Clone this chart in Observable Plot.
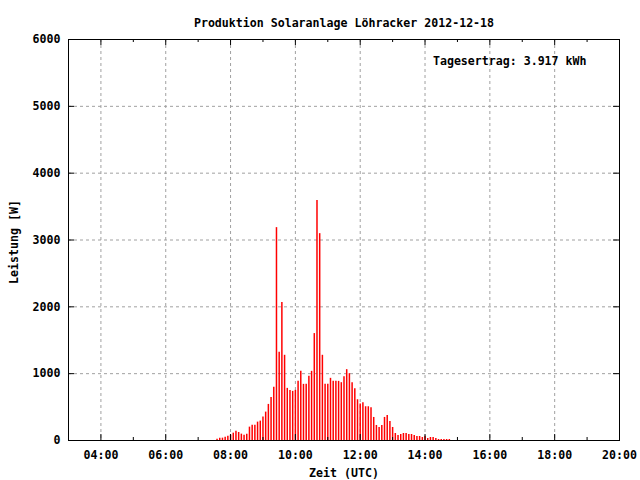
<!DOCTYPE html>
<html>
<head>
<meta charset="utf-8">
<script src="https://cdn.jsdelivr.net/npm/d3@7"></script>
<script src="https://cdn.jsdelivr.net/npm/@observablehq/plot@0.6"></script>
<style>
  html, body { margin: 0; padding: 0; background: white; }
</style>
</head>
<body>
<div id="chart"></div>
<script>
const dateStr = "2012-12-18";
const titleText = "Produktion Solaranlage Löhracker 2012-12-18";
const yieldText = "Tagesertrag: 3.917 kWh";
const xLabel = "Zeit (UTC)";
const yLabel = "Leistung [W]";

// 5-minute samples starting at 07:35 UTC (watts)
const startTime = "07:35";
const stepMinutes = 5;
const watts = [
  20, 35, 35, 50, 65, 80, 110, 140, 120, 95,
  80, 95, 200, 230, 230, 275, 290, 350, 425, 540,
  645, 795, 3185, 1320, 2065, 1275, 780, 750, 735, 750,
  885, 1035, 840, 840, 960, 1035, 1600, 3590, 3095, 1275,
  840, 840, 930, 885, 885, 885, 865, 955, 1060, 1000,
  865, 775, 610, 545, 565, 505, 505, 490, 345, 225,
  195, 225, 345, 375, 285, 195, 105, 75, 90, 105,
  105, 90, 90, 75, 60, 60, 45, 60, 30, 45,
  45, 30, 15, 15, 15, 15, 15
];

const xDomainLabels = ["03:00", "20:00"];
const xTickLabels = ["04:00", "06:00", "08:00", "10:00", "12:00", "14:00", "16:00", "18:00", "20:00"];
const xMinorTickLabels = ["05:00", "07:00", "09:00", "11:00", "13:00", "15:00", "17:00", "19:00"];
const yTicks = [0, 1000, 2000, 3000, 4000, 5000, 6000];
const yDomain = [0, 6000];

const parseT = s => new Date(`${dateStr}T${s}:00Z`);
const t0 = parseT(startTime);
const data = watts.map((w, i) => ({t: d3.utcMinute.offset(t0, stepMinutes * i), w}));

const xDomain = xDomainLabels.map(parseT);
const xMajor = xTickLabels.map(parseT);
const xMinor = xMinorTickLabels.map(parseT);
const xGrid = xMajor.filter(d => d < xDomain[1]);
const yGrid = yTicks.filter(v => v > yDomain[0] && v < yDomain[1]);

const W = 640, H = 480;
const mL = 68, mR = 21, mT = 39, mB = 40;
const plotW = W - mL - mR, plotH = H - mT - mB;
const majorLen = 6, minorLen = 3;
const gridStyle = {stroke: "#a0a0a0", strokeOpacity: 1, strokeWidth: 1, strokeDasharray: "3,3"};

const chart = Plot.plot({
  width: W, height: H,
  marginLeft: mL, marginRight: mR, marginTop: mT, marginBottom: mB,
  style: {fontFamily: "'DejaVu Sans Mono', monospace", fontSize: "11.6px", fontWeight: "bold", background: "white", color: "black"},
  x: {type: "utc", domain: xDomain},
  y: {domain: yDomain},
  marks: [
    Plot.gridX(xGrid, gridStyle),
    Plot.gridY(yGrid, gridStyle),
    Plot.ruleX(data, {x: "t", y1: 0, y2: "w", stroke: "#ff0000", strokeWidth: 1.5}),
    Plot.ruleX(xMajor, {x: d => d, insetTop: plotH - majorLen, stroke: "black"}),
    Plot.ruleX(xMajor, {x: d => d, insetBottom: plotH - majorLen, stroke: "black"}),
    Plot.ruleX(xMinor, {x: d => d, insetTop: plotH - minorLen, stroke: "black"}),
    Plot.ruleX(xMinor, {x: d => d, insetBottom: plotH - minorLen, stroke: "black"}),
    Plot.ruleY(yTicks, {y: d => d, insetRight: plotW - majorLen, stroke: "black"}),
    Plot.ruleY(yTicks, {y: d => d, insetLeft: plotW - majorLen, stroke: "black"}),
    Plot.frame({stroke: "black"}),
    Plot.axisX(xMajor, {tickSize: 0, tickPadding: 10, tickFormat: d3.utcFormat("%H:%M"), label: null}),
    Plot.axisY(yTicks, {tickSize: 0, tickPadding: 8, tickFormat: d => String(d), label: null}),
    Plot.text([titleText], {frameAnchor: "top", dy: -21}),
    Plot.text([yieldText], {frameAnchor: "top-right", textAnchor: "end", dx: -33, dy: 17}),
    Plot.text([xLabel], {frameAnchor: "bottom", dy: 36}),
    Plot.text([yLabel], {frameAnchor: "left", textAnchor: "middle", rotate: -90, dx: -54, dy: 2})
  ]
});
document.getElementById("chart").appendChild(chart);
</script>
</body>
</html>
